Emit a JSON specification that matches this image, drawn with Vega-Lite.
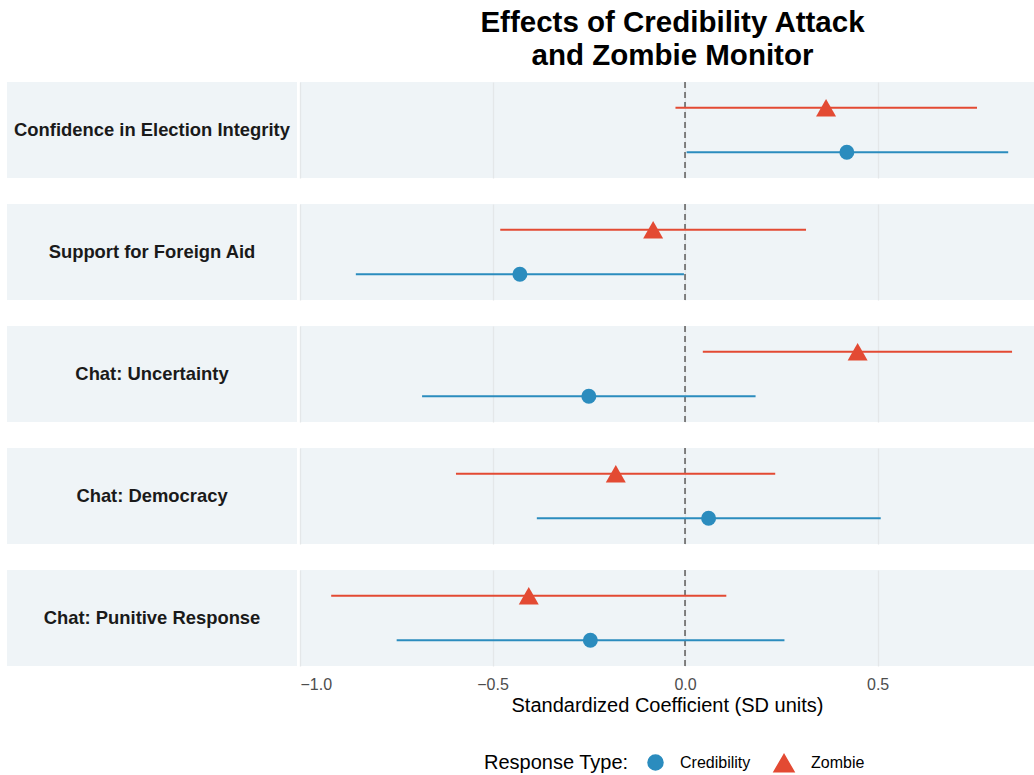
{
  "$schema": "https://vega.github.io/schema/vega-lite/v6.json",
  "padding": {"left": 7, "top": 7, "right": 0, "bottom": 0},
  "background": "white",
  "config": {
    "font": "Liberation Sans",
    "view": {"stroke": null},
    "concat": {"spacing": 3}
  },
  "title": {
    "text": ["Effects of Credibility Attack", "and Zombie Monitor"],
    "fontSize": 29.5,
    "fontWeight": "bold",
    "color": "black",
    "anchor": "middle",
    "dx": 152,
    "lineHeight": 33,
    "offset": 10
  },
  "datasets": {
    "strips": [
      {"outcome": "Confidence in Election Integrity"},
      {"outcome": "Support for Foreign Aid"},
      {"outcome": "Chat: Uncertainty"},
      {"outcome": "Chat: Democracy"},
      {"outcome": "Chat: Punitive Response"}
    ],
    "effects": [
      {"outcome": "Confidence in Election Integrity", "type": "Zombie", "est": 0.366, "lo": -0.025, "hi": 0.758},
      {"outcome": "Confidence in Election Integrity", "type": "Credibility", "est": 0.420, "lo": 0.004, "hi": 0.839},
      {"outcome": "Support for Foreign Aid", "type": "Zombie", "est": -0.083, "lo": -0.480, "hi": 0.314},
      {"outcome": "Support for Foreign Aid", "type": "Credibility", "est": -0.429, "lo": -0.855, "hi": -0.003},
      {"outcome": "Chat: Uncertainty", "type": "Zombie", "est": 0.448, "lo": 0.046, "hi": 0.849},
      {"outcome": "Chat: Uncertainty", "type": "Credibility", "est": -0.250, "lo": -0.683, "hi": 0.183},
      {"outcome": "Chat: Democracy", "type": "Zombie", "est": -0.180, "lo": -0.595, "hi": 0.234},
      {"outcome": "Chat: Democracy", "type": "Credibility", "est": 0.061, "lo": -0.385, "hi": 0.508},
      {"outcome": "Chat: Punitive Response", "type": "Zombie", "est": -0.406, "lo": -0.919, "hi": 0.107},
      {"outcome": "Chat: Punitive Response", "type": "Credibility", "est": -0.246, "lo": -0.749, "hi": 0.258}
    ]
  },
  "hconcat": [
    {
      "data": {"name": "strips"},
      "facet": {
        "row": {
          "field": "outcome",
          "type": "nominal",
          "sort": ["Confidence in Election Integrity", "Support for Foreign Aid", "Chat: Uncertainty", "Chat: Democracy", "Chat: Punitive Response"],
          "header": null
        }
      },
      "spacing": 26,
      "bounds": "flush",
      "spec": {
        "width": 290,
        "height": 96,
        "view": {"fill": "#EFF4F7", "stroke": null},
        "mark": {"type": "text", "fontWeight": "bold", "fontSize": 18.4, "color": "#1A1A1A", "align": "center", "baseline": "middle"},
        "encoding": {
          "text": {"field": "outcome", "type": "nominal"},
          "x": {"datum": 0.5, "type": "quantitative", "scale": {"domain": [0, 1]}, "axis": null},
          "y": {"datum": 0.5, "type": "quantitative", "scale": {"domain": [0, 1]}, "axis": null}
        }
      }
    },
    {
      "data": {"name": "effects"},
      "facet": {
        "row": {
          "field": "outcome",
          "type": "nominal",
          "sort": ["Confidence in Election Integrity", "Support for Foreign Aid", "Chat: Uncertainty", "Chat: Democracy", "Chat: Punitive Response"],
          "header": null
        }
      },
      "spacing": 26,
      "bounds": "flush",
      "spec": {
        "width": 734,
        "height": 96,
        "view": {"fill": "#EFF4F7", "stroke": null},
        "layer": [
          {
            "mark": {"type": "rule", "strokeDash": [6, 4], "color": "#7A7A7A", "strokeWidth": 1.6},
            "encoding": {
              "x": {"datum": 0, "type": "quantitative"}
            }
          },
          {
            "mark": {"type": "rule", "strokeWidth": 2},
            "encoding": {
              "x": {"field": "lo", "type": "quantitative"},
              "x2": {"field": "hi"},
              "y": {"field": "type", "type": "nominal", "sort": ["Zombie", "Credibility"], "scale": {"type": "point", "padding": 0.58}, "axis": null},
              "color": {"field": "type", "type": "nominal"}
            }
          },
          {
            "mark": {"type": "point", "filled": true, "opacity": 1, "strokeWidth": 0},
            "encoding": {
              "x": {"field": "est", "type": "quantitative"},
              "y": {"field": "type", "type": "nominal", "sort": ["Zombie", "Credibility"], "axis": null},
              "color": {
                "field": "type",
                "type": "nominal",
                "scale": {"domain": ["Credibility", "Zombie"], "range": ["#2B8CBE", "#E34A33"]},
                "legend": {
                  "title": "Response Type:",
                  "orient": "none",
                  "direction": "horizontal",
                  "titleOrient": "left",
                  "legendX": 477,
                  "legendY": 670,
                  "titleFontSize": 20,
                  "titleFontWeight": "normal",
                  "titleColor": "black",
                  "titlePadding": 18,
                  "labelFontSize": 16,
                  "labelColor": "black",
                  "labelOffset": 16,
                  "columnPadding": 20,
                  "symbolOpacity": 1
                }
              },
              "shape": {"field": "type", "type": "nominal", "scale": {"domain": ["Credibility", "Zombie"], "range": ["circle", "triangle-up"]}},
              "size": {"field": "type", "type": "nominal", "scale": {"domain": ["Credibility", "Zombie"], "range": [225, 400]}}
            }
          }
        ],
        "encoding": {
          "x": {
            "scale": {"domain": [-1, 0.906], "nice": false, "zero": false},
            "axis": {
              "values": [-1, -0.5, 0, 0.5],
              "format": ".1f",
              "grid": true,
              "gridColor": "#E4E7E9",
              "gridWidth": 1.3,
              "domain": false,
              "ticks": false,
              "labelFontSize": 16,
              "labelColor": "#4D4D4D",
              "labelPadding": 10,
              "title": "Standardized Coefficient (SD units)",
              "titleFontSize": 20,
              "titleFontWeight": "normal",
              "titleColor": "black",
              "titlePadding": 3
            }
          }
        }
      }
    }
  ],
  "resolve": {"scale": {"color": "shared", "shape": "shared", "size": "shared"}}
}
